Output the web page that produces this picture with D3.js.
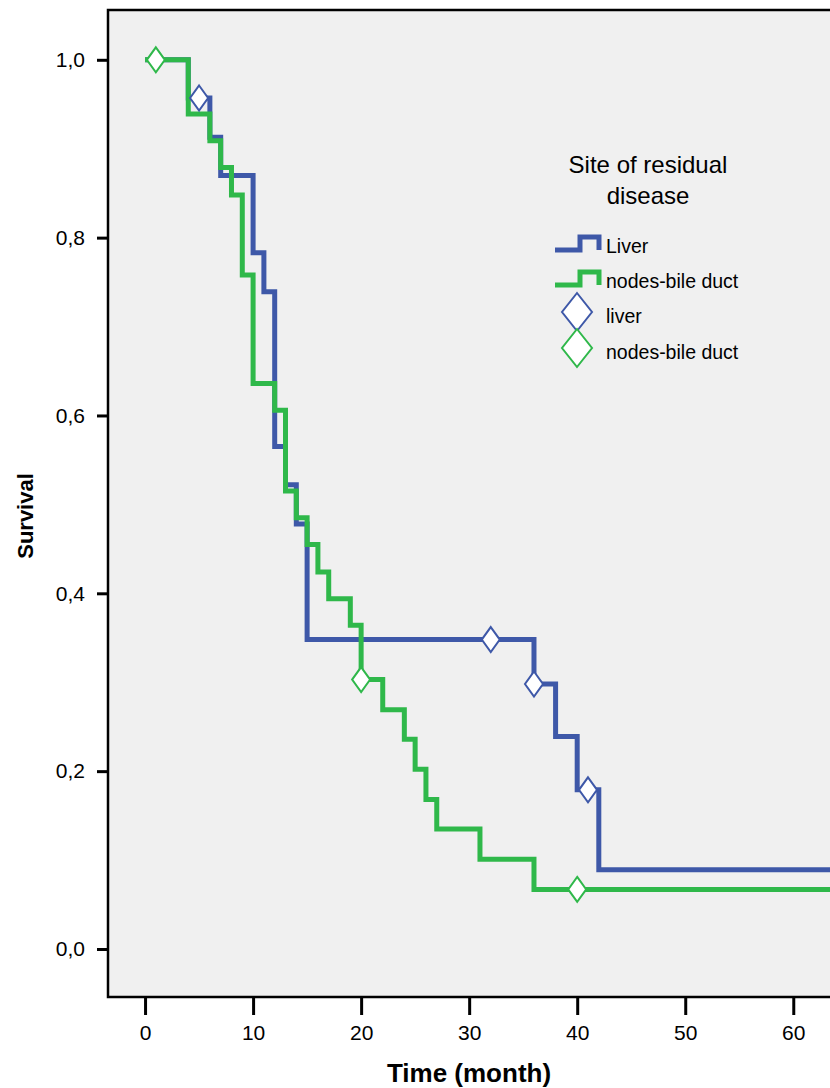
<!DOCTYPE html>
<html>
<head>
<meta charset="utf-8">
<script src="https://cdn.jsdelivr.net/npm/d3@7"></script>
<style>
  body { margin: 0; background: #fff; }
  text { font-family: Arial, "Liberation Sans", sans-serif; fill: #000; }
</style>
</head>
<body>
<div id="chart"></div>
<script>
// Kaplan-Meier steps
const liverTimes = [0, 4, 6, 7, 10, 11, 12, 13, 14, 15, 36, 38, 40, 42];
const liverSurv = [1.0, 0.957, 0.913, 0.870, 0.783, 0.739, 0.565, 0.522, 0.478, 0.348, 0.298, 0.239, 0.179, 0.089];
const liverCensTimes = [5, 32, 36, 41];
const liverCensSurv = [0.957, 0.348, 0.298, 0.179];

const nodesTimes = [0, 4, 6, 7, 8, 9, 10, 12, 13, 14, 15, 16, 17, 19, 20, 22, 24, 25, 26, 27, 31, 36];
const nodesSurv = [1.0, 0.939, 0.909, 0.879, 0.848, 0.758, 0.636, 0.606, 0.515, 0.485, 0.455, 0.424, 0.394, 0.364, 0.303, 0.269, 0.236, 0.202, 0.168, 0.135, 0.101, 0.067];
const nodesCensTimes = [1, 20, 40];
const nodesCensSurv = [1.0, 0.303, 0.067];

const xTicks = [0, 10, 20, 30, 40, 50, 60];
const yTicks = [0, 0.2, 0.4, 0.6, 0.8, 1.0];

const legendTitle = ["Site of residual", "disease"];
const legendLines = ["Liver", "nodes-bile duct"];
const legendMarks = ["liver", "nodes-bile duct"];

const blue = "#3e58a8";
const green = "#2fb84a";

const width = 830, height = 1088;
const plot = { left: 108, top: 10, right: 830, bottom: 997 };
const xMin = -3.43, xMax = 63.4;

const svg = d3.select("#chart").append("svg")
  .attr("width", width)
  .attr("height", height);

const x = d3.scaleLinear().domain([xMin, xMax]).range([plot.left, plot.right]);
const y = d3.scaleLinear().domain([-0.054, 1.056]).range([plot.bottom, plot.top]);

svg.append("rect")
  .attr("x", plot.left).attr("y", plot.top)
  .attr("width", plot.right - plot.left).attr("height", plot.bottom - plot.top)
  .attr("fill", "#f0f0f0");

svg.append("clipPath").attr("id", "clip")
  .append("rect")
  .attr("x", plot.left).attr("y", plot.top)
  .attr("width", plot.right - plot.left).attr("height", plot.bottom - plot.top);

// axes
const yAxis = svg.append("g")
  .attr("transform", `translate(${plot.left},0)`)
  .call(d3.axisLeft(y).tickValues(yTicks).tickSize(11).tickPadding(12)
    .tickFormat(d => d3.format(".1f")(d).replace(".", ",")));
yAxis.select(".domain").remove();
yAxis.selectAll("line").attr("stroke", "#000").attr("stroke-width", 3);
yAxis.selectAll("text").attr("font-size", 21).attr("font-family", "Arial, 'Liberation Sans', sans-serif");

const xAxis = svg.append("g")
  .attr("transform", `translate(0,${plot.bottom})`)
  .call(d3.axisBottom(x).tickValues(xTicks).tickSize(18).tickPadding(10));
xAxis.select(".domain").remove();
xAxis.selectAll("line").attr("stroke", "#000").attr("stroke-width", 3);
xAxis.selectAll("text").attr("font-size", 21).attr("font-family", "Arial, 'Liberation Sans', sans-serif");

// steps
const step = d3.line()
  .x(d => x(d[0]))
  .y(d => y(d[1]))
  .curve(d3.curveStepAfter);

function stepData(times, surv) {
  const pts = times.map((t, i) => [t, surv[i]]);
  pts.push([xMax + 1, surv[surv.length - 1]]);
  return pts;
}

const lines = svg.append("g").attr("clip-path", "url(#clip)");
[[liverTimes, liverSurv, blue], [nodesTimes, nodesSurv, green]].forEach(s => {
  lines.append("path")
    .attr("d", step(stepData(s[0], s[1])))
    .attr("fill", "none")
    .attr("stroke", s[2])
    .attr("stroke-width", 5)
    .attr("stroke-linejoin", "miter");
});

function diamond(w, h) {
  return `M0,${-h / 2}L${w / 2},0L0,${h / 2}L${-w / 2},0Z`;
}

[[liverCensTimes, liverCensSurv, blue], [nodesCensTimes, nodesCensSurv, green]].forEach(s => {
  lines.append("g").selectAll("path")
    .data(s[0].map((t, i) => [t, s[1][i]]))
    .join("path")
    .attr("transform", d => `translate(${x(d[0])},${y(d[1])})`)
    .attr("d", diamond(18, 25))
    .attr("fill", "#fff")
    .attr("stroke", s[2])
    .attr("stroke-width", 2);
});

// frame
svg.append("path")
  .attr("d", `M${plot.right + 5},${plot.top}H${plot.left}V${plot.bottom}H${plot.right + 5}`)
  .attr("fill", "none")
  .attr("stroke", "#000")
  .attr("stroke-width", 2.5);

// axis titles
svg.append("text")
  .attr("x", (plot.left + plot.right) / 2)
  .attr("y", 1082)
  .attr("text-anchor", "middle")
  .attr("font-size", 26)
  .attr("font-weight", "bold")
  .text("Time (month)");

svg.append("text")
  .attr("transform", "translate(33,516) rotate(-90)")
  .attr("text-anchor", "middle")
  .attr("font-size", 22)
  .attr("font-weight", "bold")
  .text("Survival");

// legend
const legend = svg.append("g").attr("transform", "translate(555,0)");
legend.selectAll("text.title")
  .data(legendTitle)
  .join("text")
  .attr("class", "title")
  .attr("x", 93)
  .attr("y", (d, i) => 173 + i * 31)
  .attr("text-anchor", "middle")
  .attr("font-size", 24)
  .text(d => d);

legendLines.forEach((d, i) => {
  const yy = 250 + i * 35;
  legend.append("path")
    .attr("d", `M0,${yy}H25V${yy - 13}H44V${yy}`)
    .attr("fill", "none")
    .attr("stroke", i === 0 ? blue : green)
    .attr("stroke-width", 5);
  legend.append("text")
    .attr("x", 51).attr("y", yy + 3)
    .attr("font-size", 19.5)
    .text(d);
});

legendMarks.forEach((d, i) => {
  const yy = 312 + i * 36;
  legend.append("path")
    .attr("transform", `translate(22,${yy})`)
    .attr("d", diamond(30, 38))
    .attr("fill", "#fff")
    .attr("stroke", i === 0 ? blue : green)
    .attr("stroke-width", 2);
  legend.append("text")
    .attr("x", 51).attr("y", yy + 11)
    .attr("font-size", 19.5)
    .text(d);
});
</script>
</body>
</html>
